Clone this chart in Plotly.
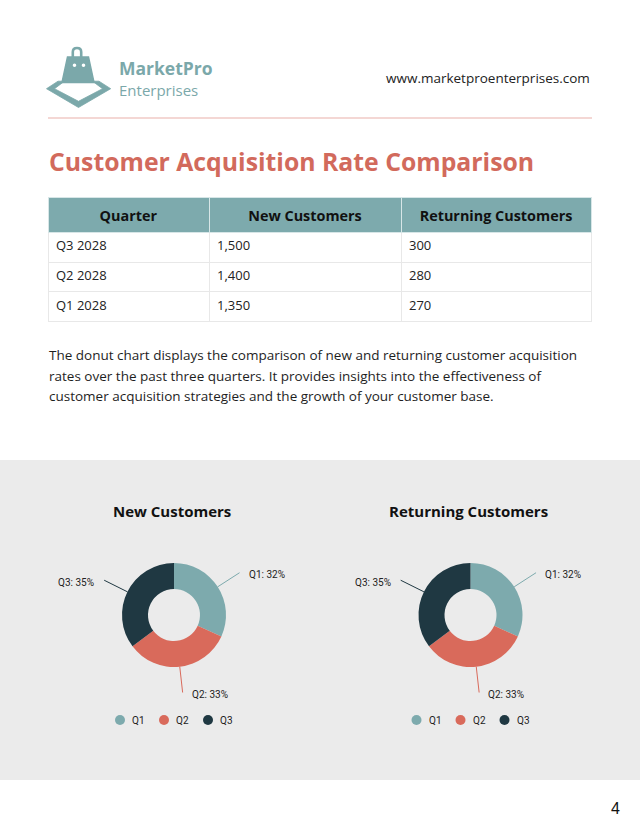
import math
import plotly.graph_objects as go

W, H = 640, 828

# ---------------- data ----------------
quarters_table = ["Q3 2028", "Q2 2028", "Q1 2028"]
new_customers = [1500, 1400, 1350]
returning_customers = [300, 280, 270]
table_headers = ["Quarter", "New Customers", "Returning Customers"]

pie_labels = ["Q1", "Q2", "Q3"]
new_by_quarter = [1350, 1400, 1500]
returning_by_quarter = [270, 280, 300]
chart_titles = ["New Customers", "Returning Customers"]

paragraph_lines = [
    "The donut chart displays the comparison of new and returning customer acquisition",
    "rates over the past three quarters. It provides insights into the effectiveness of",
    "customer acquisition strategies and the growth of your customer base.",
]

# ---------------- styles ----------------
TEAL = "#7DAAAD"
CORAL = "#D96A5B"
DARK = "#1F3842"
slice_colors = [TEAL, CORAL, DARK]
LOGO = "#7BA8AA"
BODY_FONT = "Open Sans"
CHART_FONT = "Roboto"


def fx(x):
    return x / W


def fy(y):
    return 1 - y / H


def path(points, close=True):
    s = "M " + " L ".join(f"{fx(x):.5f},{fy(y):.5f}" for x, y in points)
    return s + (" Z" if close else "")


fig = go.Figure()
shapes = []
annotations = []

# gray band
shapes.append(dict(type="rect", xref="paper", yref="paper", x0=0, x1=1,
                   y0=fy(780), y1=fy(460), fillcolor="#EBEBEB",
                   line=dict(width=0), layer="below"))

# header divider
shapes.append(dict(type="line", xref="paper", yref="paper", x0=fx(48), x1=fx(592),
                   y0=fy(118), y1=fy(118), line=dict(color="#E9B0AA", width=1.2)))

# ---------------- logo ----------------
shapes.append(dict(type="path", xref="paper", yref="paper",
                   path=path([(67.5, 57), (88.5, 57), (94, 82.5), (62, 82.5)]),
                   fillcolor=LOGO, line=dict(color=LOGO, width=1.5)))
handle = (f"M {fx(72.8):.5f},{fy(57):.5f} L {fx(72.8):.5f},{fy(52):.5f} "
          f"Q {fx(72.8):.5f},{fy(48):.5f} {fx(77):.5f},{fy(48):.5f} "
          f"Q {fx(81.2):.5f},{fy(48):.5f} {fx(81.2):.5f},{fy(52):.5f} "
          f"L {fx(81.2):.5f},{fy(57):.5f}")
shapes.append(dict(type="path", xref="paper", yref="paper", path=handle,
                   line=dict(color=LOGO, width=2.6)))
for dx in (74.5, 83.5):
    shapes.append(dict(type="circle", xref="paper", yref="paper",
                       x0=fx(dx - 1.8), x1=fx(dx + 1.8), y0=fy(65.2 - 1.8), y1=fy(65.2 + 1.8),
                       fillcolor="white", line=dict(width=0)))
shapes.append(dict(type="path", xref="paper", yref="paper",
                   path=path([(46.5, 88.7), (58, 81.2), (64.5, 81.2), (54.5, 88.7),
                              (78.5, 101.3), (102.5, 88.7), (92.5, 81.2), (99, 81.2),
                              (110.7, 88.7), (78.5, 107.5)]),
                   fillcolor=LOGO, line=dict(color=LOGO, width=0.8)))

annotations.append(dict(text="<b>MarketPro</b>", x=fx(117), y=fy(68), xref="paper", yref="paper",
                        xanchor="left", yanchor="middle", showarrow=False,
                        font=dict(family=BODY_FONT, size=17.5, color=LOGO)))
annotations.append(dict(text="Enterprises", x=fx(117), y=fy(90), xref="paper", yref="paper",
                        xanchor="left", yanchor="middle", showarrow=False,
                        font=dict(family=BODY_FONT, size=15, color=LOGO)))
annotations.append(dict(text="www.marketproenterprises.com", x=fx(592), y=fy(78),
                        xref="paper", yref="paper", xanchor="right", yanchor="middle",
                        showarrow=False, font=dict(family=BODY_FONT, size=13.5, color="#222222")))

# title
annotations.append(dict(text="<b>Customer Acquisition Rate Comparison</b>", x=fx(47), y=fy(161),
                        xref="paper", yref="paper", xanchor="left", yanchor="middle",
                        showarrow=False, font=dict(family=BODY_FONT, size=24.8, color="#D26A5C")))

# paragraph
for i, line in enumerate(paragraph_lines):
    annotations.append(dict(text=line, x=fx(47), y=fy(355 + 20.5 * i), xref="paper", yref="paper",
                            xanchor="left", yanchor="middle", showarrow=False,
                            font=dict(family=BODY_FONT, size=13.5, color="#1E1E1E")))

# page number
annotations.append(dict(text="4", x=fx(622), y=fy(808), xref="paper", yref="paper",
                        xanchor="right", yanchor="middle", showarrow=False,
                        font=dict(family="Liberation Sans", size=16, color="#111111")))

# ---------------- table ----------------
fmt = lambda v: f"{v:,}"
fig.add_trace(go.Table(
    domain=dict(x=[fx(48), fx(591)], y=[fy(330), fy(197.5)]),
    columnwidth=[161, 192, 190],
    header=dict(values=[f"<b>{h}</b>" for h in table_headers],
                fill_color=TEAL, align="center", height=28,
                line=dict(color="#D7E6E7", width=1),
                font=dict(family=BODY_FONT, size=14.4, color="#111111")),
    cells=dict(values=[quarters_table, [fmt(v) for v in new_customers],
                       [fmt(v) for v in returning_customers]],
               fill_color="white", align="left", height=29.7,
               line=dict(color="#E8E8E8", width=1),
               font=dict(family=BODY_FONT, size=13, color="#222222")),
))

# ---------------- donuts ----------------
R = 52
centers = [(174, 615), (470.5, 615)]
datasets = [new_by_quarter, returning_by_quarter]

for (cx, cy), vals, title in zip(centers, datasets, chart_titles):
    fig.add_trace(go.Pie(
        labels=pie_labels, values=vals, hole=0.5, sort=False, direction="clockwise",
        marker=dict(colors=slice_colors, line=dict(width=0)),
        textinfo="none", hoverinfo="label+percent", showlegend=False,
        domain=dict(x=[fx(cx - R), fx(cx + R)], y=[fy(cy + R), fy(cy - R)]),
    ))
    annotations.append(dict(text=f"<b>{title}</b>", x=fx(cx - 2), y=fy(511), xref="paper",
                            yref="paper", xanchor="center", yanchor="middle", showarrow=False,
                            font=dict(family=BODY_FONT, size=15, color="#111111")))
    total = sum(vals)
    cum = 0
    for lab, v, col in zip(pie_labels, vals, slice_colors):
        mid = (cum + v / 2) / total
        cum += v
        th = 2 * math.pi * mid
        s, c = math.sin(th), math.cos(th)
        x0, y0 = cx + R * s, cy - R * c
        x1, y1 = cx + (R + 26) * s, cy - (R + 26) * c
        shapes.append(dict(type="line", xref="paper", yref="paper", x0=fx(x0), y0=fy(y0),
                           x1=fx(x1), y1=fy(y1), line=dict(color=col, width=1)))
        right = s >= 0
        annotations.append(dict(text=f"{lab}: {round(100 * v / total)}%",
                                x=fx(x1 + (7 if right else -8)), y=fy(y1 + 2),
                                xref="paper", yref="paper",
                                xanchor="left" if right else "right", yanchor="middle",
                                showarrow=False,
                                font=dict(family=CHART_FONT, size=10, color="#222222")))
    # legend
    for i, (lab, col) in enumerate(zip(pie_labels, slice_colors)):
        lx = cx - 54 + 44 * i
        shapes.append(dict(type="circle", xref="paper", yref="paper",
                           x0=fx(lx - 5), x1=fx(lx + 5), y0=fy(720 + 5), y1=fy(720 - 5),
                           fillcolor=col, line=dict(width=0)))
        annotations.append(dict(text=lab, x=fx(lx + 10), y=fy(720), xref="paper", yref="paper",
                                xanchor="left", yanchor="middle", showarrow=False,
                                font=dict(family=CHART_FONT, size=10, color="#222222")))

fig.update_layout(
    width=W, height=H, margin=dict(l=0, r=0, t=0, b=0),
    paper_bgcolor="white", plot_bgcolor="white",
    shapes=shapes, annotations=annotations, showlegend=False,
)

fig.write_html("out.html", config={"displayModeBar": False},
               post_script="document.body.style.margin='0';")
